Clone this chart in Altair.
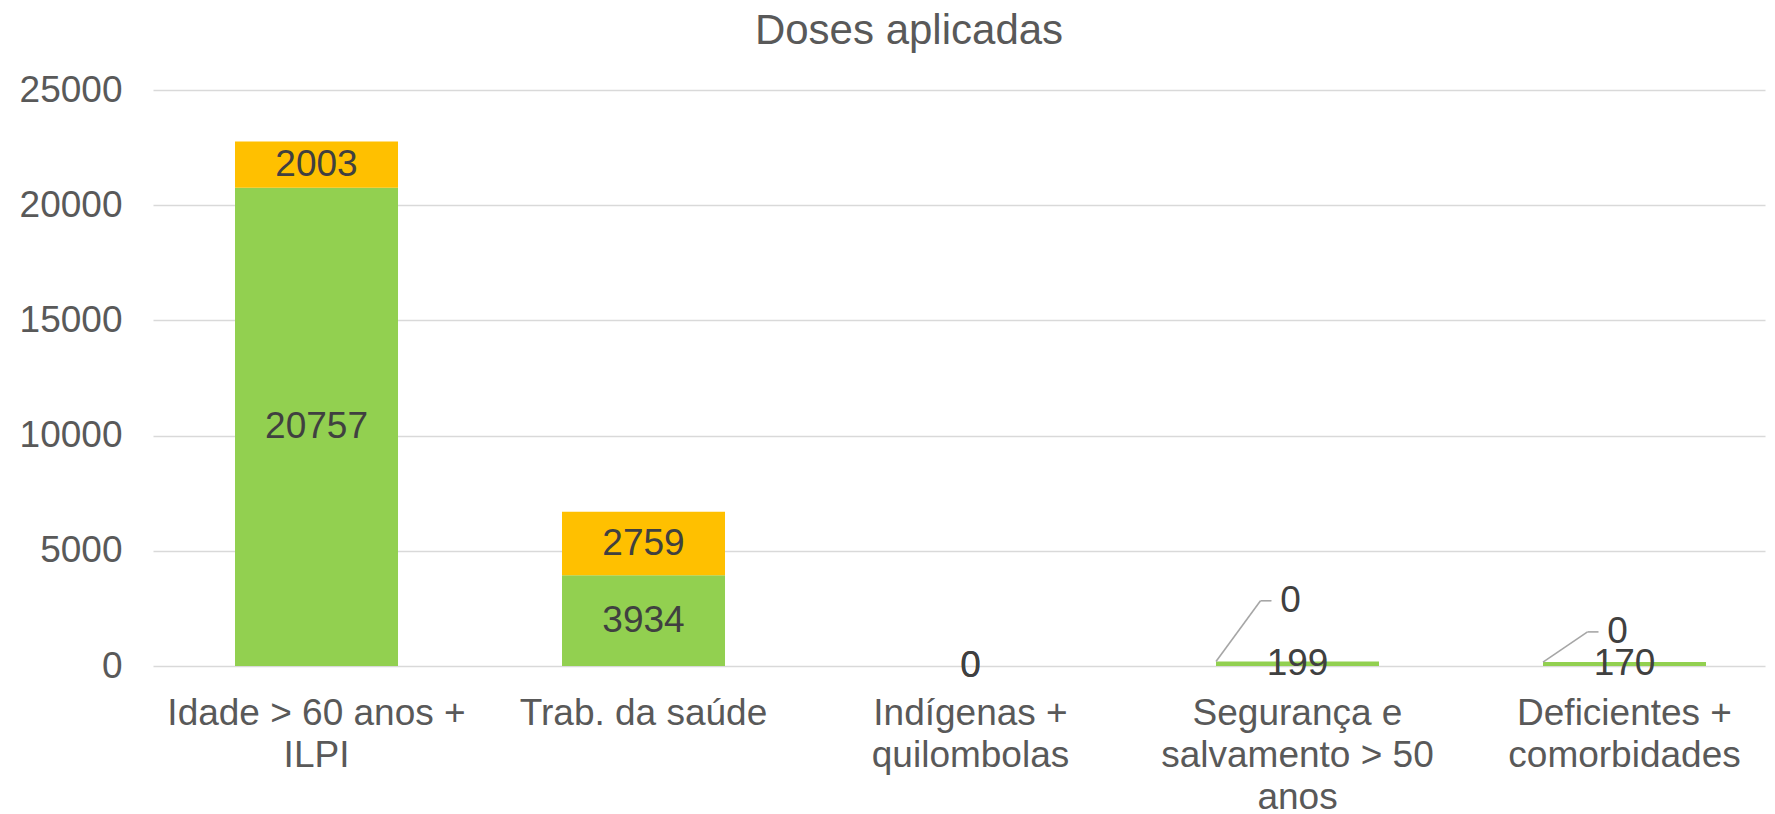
import altair as alt
import pandas as pd

# ---- data ----
categories = [
    "Idade > 60 anos +|ILPI",
    "Trab. da saúde",
    "Indígenas +|quilombolas",
    "Segurança e|salvamento > 50|anos",
    "Deficientes +|comorbidades",
]
series = ["1ª dose", "2ª dose"]
dose1 = [20757, 3934, 0, 199, 170]
dose2 = [2003, 2759, 0, 0, 0]

# categories whose 2nd-dose label is pulled out with a leader line
callout_index = [3, 4]
callout_label_y = [2830, 1480]  # label placement (axis units)

FONT = "Liberation Sans, Arial, sans-serif"
GREEN = "#92D050"
ORANGE = "#FFC000"
FS = 37

rows = []
for i, c in enumerate(categories):
    base = 0
    for s, vals in zip(series, [dose1, dose2]):
        v = vals[i]
        rows.append(
            dict(
                cat=c,
                series=s,
                start=base,
                end=base + v,
                mid=base + v / 2,
                value=v,
                inside=not (s == series[1] and i in callout_index),
            )
        )
        base += v
df = pd.DataFrame(rows)

call_rows = []
for i, ly in zip(callout_index, callout_label_y):
    call_rows.append(
        dict(cat=categories[i], top=dose1[i] + dose2[i], ly=ly, value=dose2[i])
    )
cdf = pd.DataFrame(call_rows)

xenc = alt.X(
    "cat:N",
    sort=categories,
    title=None,
    scale=alt.Scale(paddingInner=0.5015, paddingOuter=0.2156, align=0.5816),
    axis=alt.Axis(
        labelExpr="split(datum.label, '|')",
        labelAngle=0,
        labelFontSize=FS,
        labelFont=FONT,
        labelColor="#595959",
        labelLineHeight=42,
        labelPadding=29,
        labelLimit=1000,
        ticks=False,
        domain=False,
        grid=False,
    ),
)
yscale = alt.Scale(domain=[0, 25000], nice=False)

bars = (
    alt.Chart(df)
    .mark_bar()
    .encode(
        x=xenc,
        y=alt.Y(
            "start:Q",
            scale=yscale,
            title=None,
            axis=alt.Axis(
                values=[0, 5000, 10000, 15000, 20000, 25000],
                format="d",
                labelFontSize=FS,
                labelFont=FONT,
                labelColor="#595959",
                labelPadding=31,
                ticks=False,
                domain=False,
                gridColor="#D9D9D9",
                gridWidth=1.6,
                minExtent=135,
                maxExtent=135,
            ),
        ),
        y2="end:Q",
        color=alt.Color(
            "series:N",
            scale=alt.Scale(domain=series, range=[GREEN, ORANGE]),
            legend=None,
        ),
    )
)

labels = (
    alt.Chart(df)
    .transform_filter("datum.inside")
    .mark_text(fontSize=FS, font=FONT, color="#404040", baseline="middle")
    .encode(x=alt.X("cat:N", sort=categories), y=alt.Y("mid:Q"), text="value:Q")
)

call_text = (
    alt.Chart(cdf)
    .mark_text(fontSize=FS, font=FONT, color="#404040", baseline="middle", dx=-7)
    .encode(x=alt.X("cat:N", sort=categories), y=alt.Y("ly:Q"), text="value:Q")
)

leader_diag = (
    alt.Chart(cdf)
    .mark_rule(color="#A6A6A6", strokeWidth=1.6, xOffset=-81.5, x2Offset=-37)
    .encode(
        x=alt.X("cat:N", sort=categories),
        x2="cat:N",
        y="top:Q",
        y2="ly:Q",
    )
)
leader_horiz = (
    alt.Chart(cdf)
    .mark_rule(color="#A6A6A6", strokeWidth=1.6, xOffset=-37, x2Offset=-26)
    .encode(
        x=alt.X("cat:N", sort=categories),
        x2="cat:N",
        y="ly:Q",
    )
)

chart = (
    alt.layer(bars, leader_diag, leader_horiz, labels, call_text)
    .properties(
        width=1612,
        height=576,
        padding={"left": 10, "top": 2, "right": 2, "bottom": 0},
        title=alt.Title(
            "Doses aplicadas",
            fontSize=42,
            font=FONT,
            color="#595959",
            fontWeight="normal",
            anchor="middle",
            frame="group",
            dx=-50,
            baseline="alphabetic",
            offset=-15,
        ),
    )
    .configure_view(stroke=None)
)

chart.save("out.html", embed_options={"renderer": "svg", "actions": False})
